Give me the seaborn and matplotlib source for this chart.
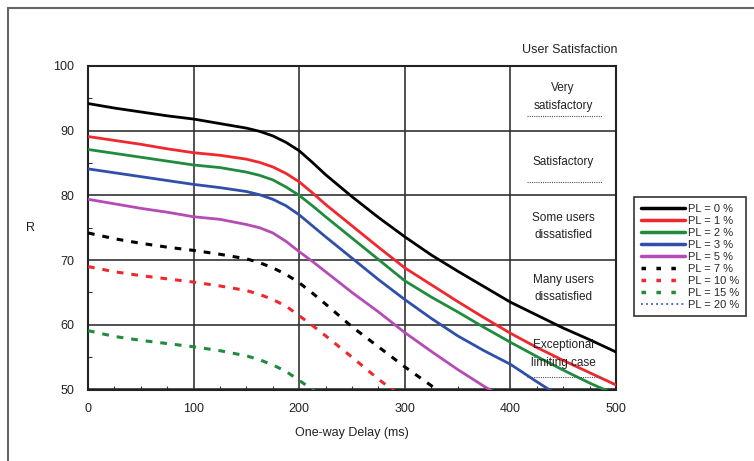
import matplotlib
matplotlib.use("Agg")
import numpy as np
import pandas as pd
import matplotlib.pyplot as plt
import seaborn as sns
from matplotlib.lines import Line2D
from matplotlib.patches import Rectangle
from matplotlib.ticker import MultipleLocator

# ---------------- data ----------------
delay = [0, 25, 50, 75, 100, 125, 150, 162.5, 175, 187.5, 200, 212.5, 225, 250, 275, 300,
         325, 350, 375, 400, 425, 450, 475, 500]

pl0 = [94.2, 93.5, 92.9, 92.3, 91.8, 91.1, 90.4, 89.9, 89.2, 88.2, 86.9, 85.1, 83.2, 79.8,
       76.6, 73.6, 70.8, 68.3, 65.9, 63.5, 61.5, 59.5, 57.7, 55.8]
pl1 = [89.1, 88.5, 87.9, 87.2, 86.6, 86.2, 85.6, 85.1, 84.4, 83.4, 82.1, 80.4, 78.6, 75.3,
       72.0, 68.8, 66.2, 63.6, 61.1, 58.7, 56.5, 54.5, 52.6, 50.7]
pl2 = [87.1, 86.5, 85.9, 85.3, 84.7, 84.3, 83.6, 83.1, 82.4, 81.3, 80.0, 78.4, 76.7, 73.4,
       70.1, 66.8, 64.3, 62.0, 59.6, 57.3, 55.1, 53.0, 51.0, 49.2]
pl3 = [84.1, 83.5, 82.9, 82.3, 81.7, 81.2, 80.6, 80.1, 79.4, 78.4, 77.0, 75.3, 73.6, 70.3,
       67.0, 63.9, 61.0, 58.3, 56.0, 53.9, 51.2, 48.6]
pl5 = [79.4, 78.7, 78.0, 77.4, 76.7, 76.3, 75.5, 75.0, 74.2, 72.9, 71.3, 69.8, 68.2, 65.0,
       62.0, 58.8, 55.9, 53.1, 50.5, 48.1]
pl7 = [74.2, 73.3, 72.6, 72.0, 71.5, 70.9, 70.2, 69.6, 68.8, 67.8, 66.5, 64.9, 63.2, 59.7,
       56.6, 53.5, 50.6, 48.0]
pl10 = [69.0, 68.2, 67.6, 67.1, 66.6, 66.0, 65.3, 64.7, 63.9, 62.9, 61.4, 59.9, 58.3, 55.0,
        51.6, 48.5]
pl15 = [59.1, 58.2, 57.6, 57.1, 56.6, 56.0, 55.2, 54.6, 53.8, 52.8, 51.4, 50.0, 48.5]

series_labels = ["PL = 0 %", "PL = 1 %", "PL = 2 %", "PL = 3 %", "PL = 5 %",
                 "PL = 7 %", "PL = 10 %", "PL = 15 %", "PL = 20 %"]
series_values = [pl0, pl1, pl2, pl3, pl5, pl7, pl10, pl15]

zone_labels = ["Very\nsatisfactory", "Satisfactory", "Some users\ndissatisfied",
               "Many users\ndissatisfied", "Exceptional\nlimiting case"]
zone_r = [95.2, 85.2, 75.2, 65.6, 55.5]
zone_rule_r = [92.2, 82.1, 52.0]

x_ticks = [0, 100, 200, 300, 400, 500]
y_ticks = [50, 60, 70, 80, 90, 100]

# ---------------- styles ----------------
colors = ["#000000", "#f0282d", "#1e8c3c", "#2f4faa", "#b54bb5",
          "#000000", "#f0282d", "#1e8c3c", "#3a5ad0"]
solid_lw = 2.0
dash_pat = (2.2, 2.6)

rows = []
for lab, vals in zip(series_labels, series_values):
    for d, r in zip(delay[:len(vals)], vals):
        rows.append({"delay": d, "R": r, "PL": lab})
df = pd.DataFrame(rows)

sns.set_theme(style="white")
plt.rcParams["font.family"] = ["Liberation Sans", "DejaVu Sans"]

fig = plt.figure(figsize=(7.54, 4.61), dpi=100)
fig.patch.set_facecolor("white")
ax = fig.add_axes([88 / 754, 1 - 389.5 / 461, 528 / 754, 323.5 / 461])

for i, lab in enumerate(series_labels[:8]):
    sub = df[df["PL"] == lab]
    if i < 5:
        sns.lineplot(data=sub, x="delay", y="R", color=colors[i], lw=solid_lw,
                     ax=ax, legend=False, zorder=3)
    else:
        sns.lineplot(data=sub, x="delay", y="R", color=colors[i], lw=2.2,
                     ax=ax, legend=False, zorder=3)
        ax.lines[-1].set_dashes(dash_pat)

ax.set_xlim(0, 500)
ax.set_ylim(50, 100)
ax.set_xticks(x_ticks)
ax.set_yticks(y_ticks)
ax.xaxis.set_minor_locator(MultipleLocator(25))
ax.yaxis.set_minor_locator(MultipleLocator(5))
ax.tick_params(which="major", direction="in", length=0, labelsize=9, pad=10,
               colors="#222222")
ax.tick_params(which="minor", direction="in", length=3, width=0.8, color="#333333",
               bottom=True, left=True)
ax.grid(True, which="major", color="#333333", lw=1.2)
for s in ax.spines.values():
    s.set_color("#222222")
    s.set_linewidth(1.5)

ax.set_xlabel("One-way Delay (ms)", fontsize=9, labelpad=8, color="#222222")
ax.set_ylabel("R", fontsize=9, rotation=0, labelpad=16, color="#222222", va="center")

# zone annotations in the right-most column
for txt, r in zip(zone_labels, zone_r):
    ax.text(450, r, txt, ha="center", va="center", fontsize=8.5, linespacing=1.6,
            color="#222222", zorder=5)
for r in zone_rule_r:
    ax.plot([416, 487], [r, r], color="#555555", lw=0.8, ls=(0, (1, 1)), zorder=4)

fig.text(570 / 754, 1 - 50 / 461, "User Satisfaction", ha="center", va="center",
         fontsize=9, color="#222222")

# outer frame
fig.add_artist(Rectangle((8 / 754, -0.05), 1.2, (1 - 8 / 461) + 0.05,
                         transform=fig.transFigure, fill=False, ec="#666666", lw=1.5))

# legend
handles = []
for i, lab in enumerate(series_labels):
    if i < 5:
        handles.append(Line2D([], [], color=colors[i], lw=2.5))
    elif i < 8:
        handles.append(Line2D([], [], color=colors[i], lw=2.5, dashes=(1.3, 3)))
    else:
        handles.append(Line2D([], [], color=colors[i], lw=1.3, dashes=(1, 1.8)))
leg = fig.legend(handles, series_labels, loc="upper left",
                 bbox_to_anchor=(634 / 754, 1 - 197 / 461), frameon=True,
                 fancybox=False, edgecolor="black", fontsize=8, handlelength=4.0,
                 labelspacing=0.18, borderpad=0.6, handletextpad=0.3,
                 borderaxespad=0.0)
leg.get_frame().set_linewidth(1.2)

fig.savefig("out.png", dpi=100)
